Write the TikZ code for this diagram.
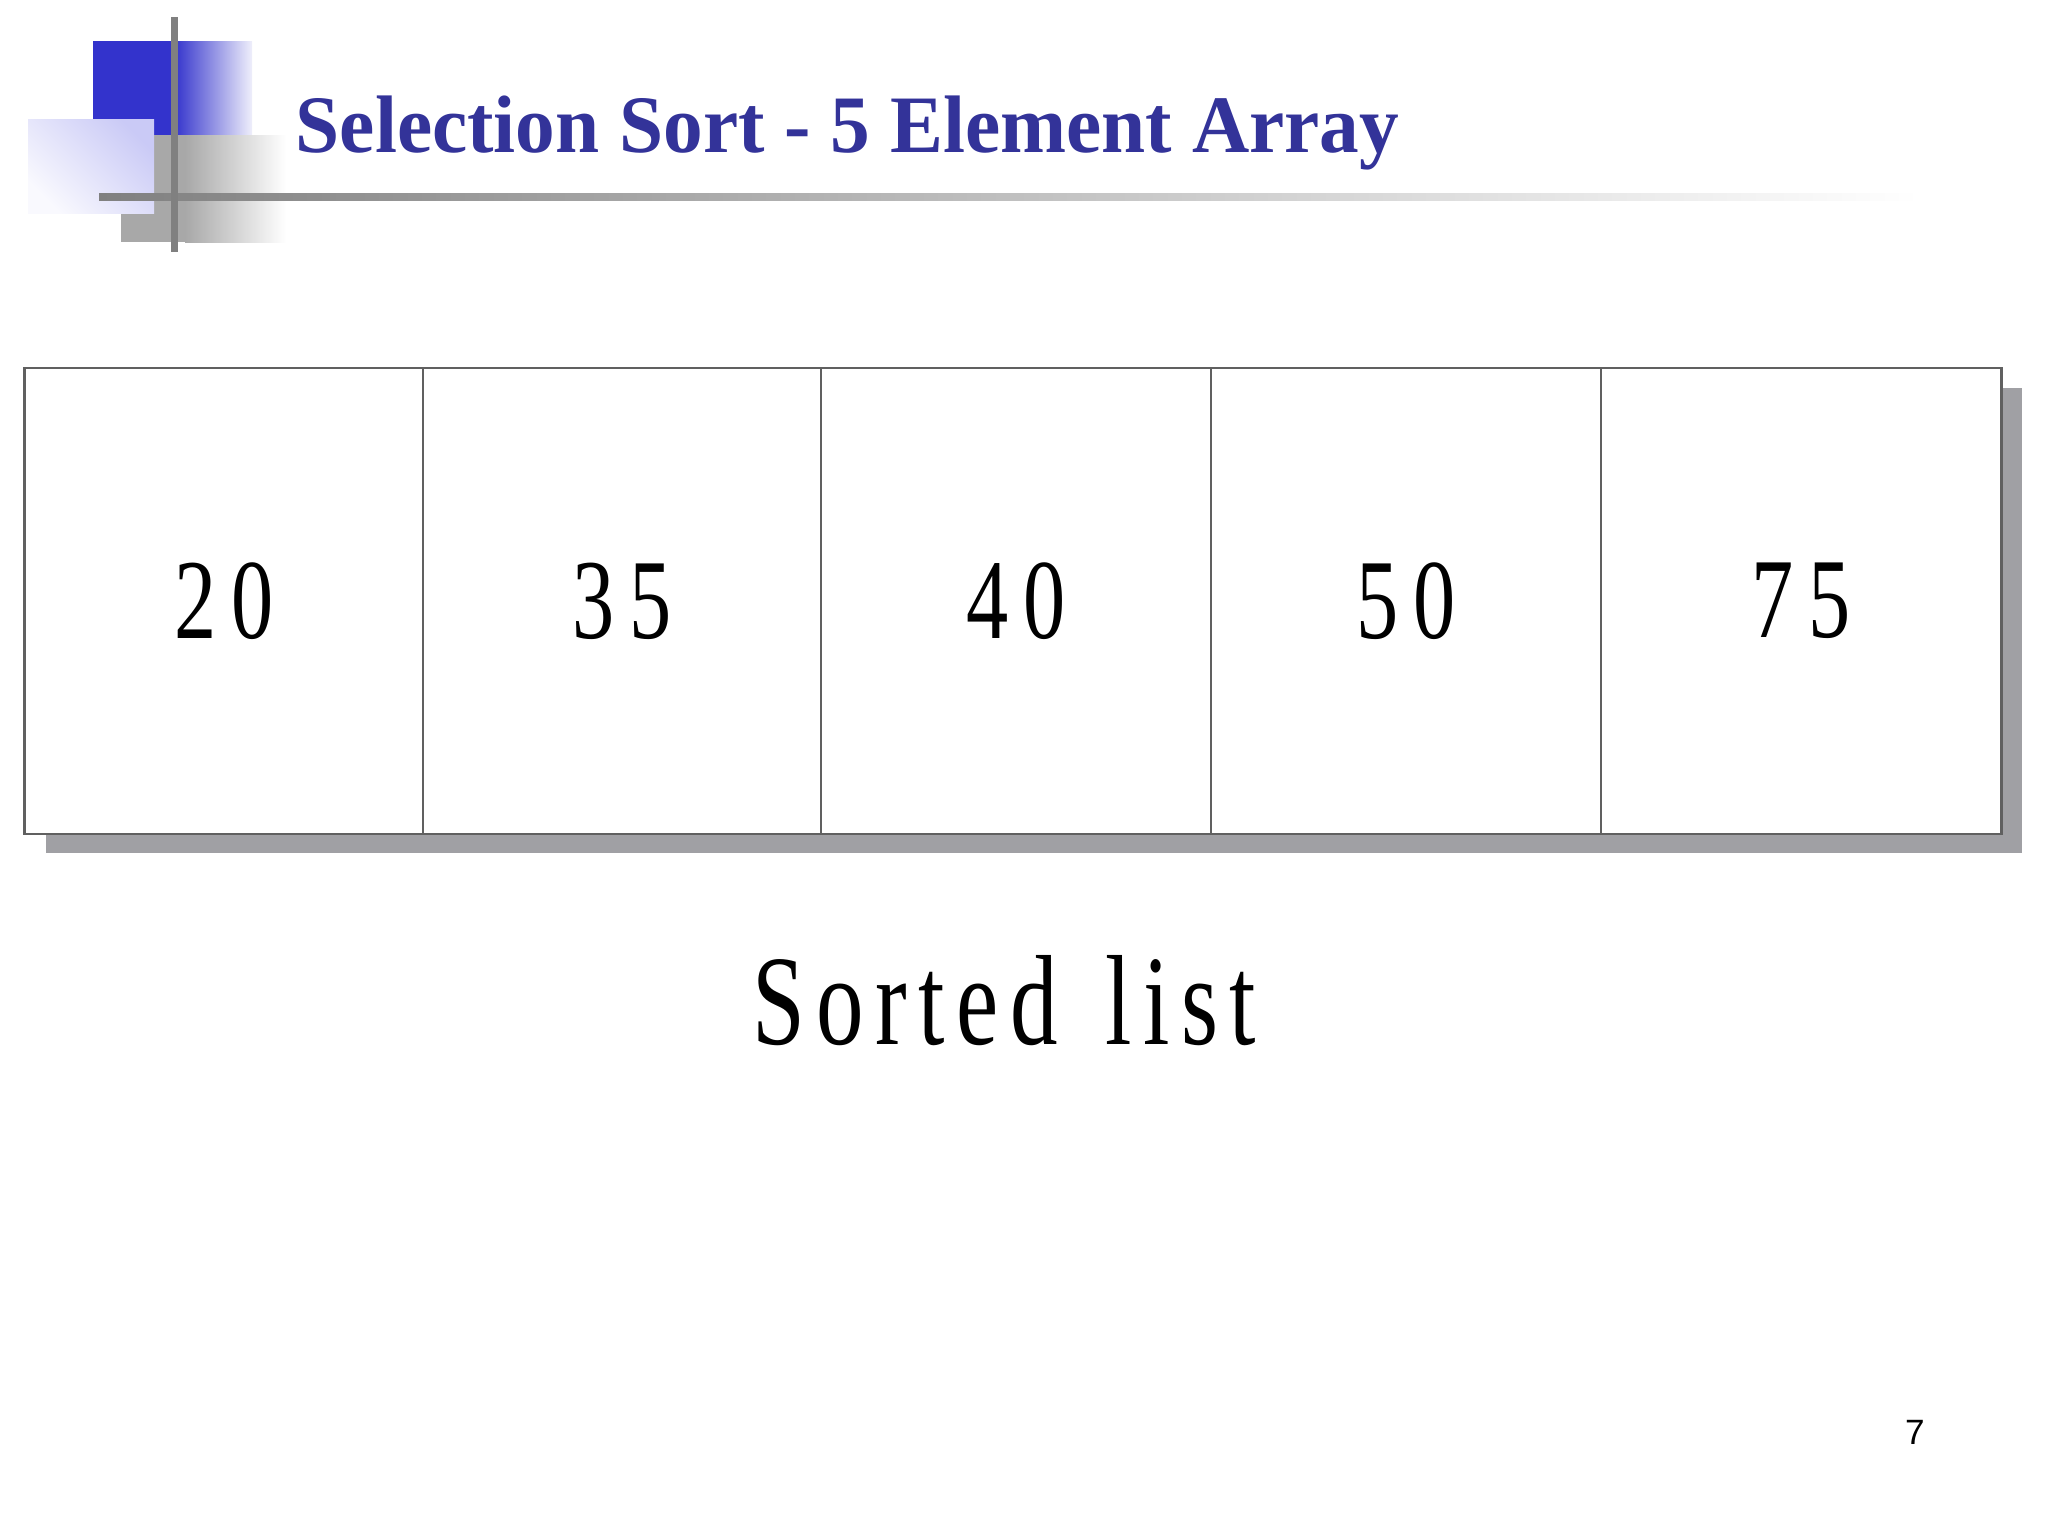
\documentclass[tikz,border=0pt]{standalone}
\usepackage{fontspec}
\setmainfont{Liberation Serif}
\newfontfamily\titlefont{Liberation Serif}[FakeStretch=0.972]
\newfontfamily\cellfont{Liberation Serif}[FakeStretch=0.74,LetterSpace=13]
\newfontfamily\listfont{Liberation Serif}[FakeStretch=0.74,LetterSpace=9]
\newfontfamily\pagefont{Liberation Sans}

\definecolor{titleblue}{HTML}{333399}
\definecolor{logoblue}{HTML}{3333CC}
\definecolor{lavender}{HTML}{CACAF6}
\definecolor{rulegray}{HTML}{808080}
\definecolor{logogray}{HTML}{A8A8A8}
\definecolor{shadowgray}{HTML}{A0A0A4}
\definecolor{tablegray}{HTML}{606060}

\tikzset{
  cellbox/.style={draw=tablegray, line width=0.5pt, fill=white, inner sep=0pt,
    minimum height=4.65cm, font=\cellfont\fontsize{32.4}{38}\selectfont},
}

\begin{document}
\begin{tikzpicture}[x=0.01cm, y=-0.01cm]
\useasboundingbox (0,0) rectangle (2048,1536);

% logo squares and rules
\fill[logoblue] (93,41) rectangle (175,135);
\shade[left color=logoblue, right color=logoblue!8] (174,41) rectangle (252,135);
\fill[logogray] (121,135) rectangle (186,242);
\shade[left color=logogray, right color=white] (185,135) rectangle (286,242);
\shade[top color=lavender, bottom color=lavender!12, shading angle=-45] (28,119) rectangle (154,213);
\shade[left color=rulegray, right color=white] (99,193.5) rectangle (1920,200.5);
\fill[rulegray] (170.5,17) rectangle (177.5,252);

\node[anchor=base west, inner sep=0pt, text=titleblue,
  font=\titlefont\bfseries\fontsize{23.2}{28}\selectfont] (title) at (295,152) {Selection Sort - 5 Element Array};

% array with drop shadow
\fill[shadowgray] (46,388) rectangle (2022,853);
\begin{scope}[every node/.style={cellbox}]
  \node[minimum width=3.98cm] (cell0) at ( 224,601) {20};
  \node[minimum width=3.98cm] (cell1) at ( 622,601) {35};
  \node[minimum width=3.90cm] (cell2) at (1016,601) {40};
  \node[minimum width=3.90cm] (cell3) at (1406,601) {50};
  \node[minimum width=4.00cm] (cell4) at (1801,601) {75};
\end{scope}
% keep the outline on the measured box
\draw[tablegray, line width=0.5pt] (cell0.north west) rectangle (cell4.south east);

\node[anchor=base, inner sep=0pt, font=\listfont\fontsize{36.5}{44}\selectfont] (caption) at (1004,1044) {Sorted\hspace{0.12cm} list};

\node[anchor=base, inner sep=0pt, font=\pagefont\fontsize{10}{12}\selectfont] (pagenum) at (1915,1444) {7};

\end{tikzpicture}
\end{document}
